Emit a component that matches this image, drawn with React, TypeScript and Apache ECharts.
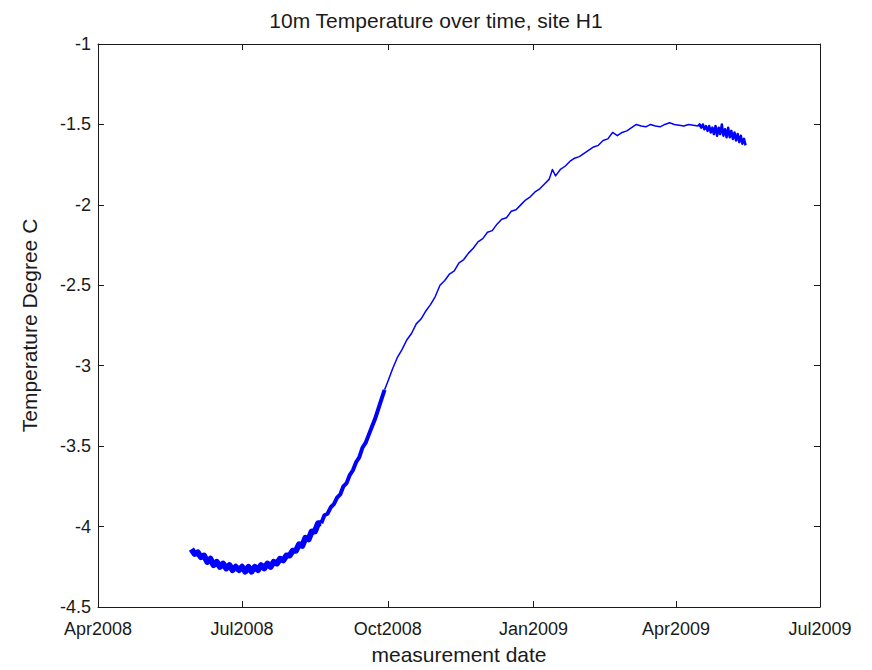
import React, { useEffect, useRef } from "react";
import * as echarts from "echarts";

const TITLE = "10m Temperature over time, site H1";
const X_NAME = "measurement date";
const Y_NAME = "Temperature Degree C";
const MONTHS = ["Jan", "Feb", "Mar", "Apr", "May", "Jun", "Jul", "Aug", "Sep", "Oct", "Nov", "Dec"];

// quarter tick dates [year, monthIndex]
const X_TICKS: [number, number][] = [
  [2008, 3], [2008, 6], [2008, 9], [2009, 0], [2009, 3], [2009, 6],
];
const Y_MIN = -4.5;
const Y_MAX = -1;
const Y_STEP = 0.5;

// noisy early-summer segment (thick band)
const summerTemps: [string, number][] = [
  ["2008-05-30", -4.14], ["2008-06-01", -4.17], ["2008-06-03", -4.16], ["2008-06-05", -4.19],
  ["2008-06-07", -4.18], ["2008-06-09", -4.22], ["2008-06-11", -4.2], ["2008-06-13", -4.24],
  ["2008-06-15", -4.22], ["2008-06-17", -4.25], ["2008-06-19", -4.23], ["2008-06-21", -4.26],
  ["2008-06-23", -4.24], ["2008-06-25", -4.27], ["2008-06-27", -4.25], ["2008-06-29", -4.27],
  ["2008-07-01", -4.25], ["2008-07-03", -4.28], ["2008-07-05", -4.25], ["2008-07-07", -4.28],
  ["2008-07-09", -4.25], ["2008-07-11", -4.27], ["2008-07-13", -4.24], ["2008-07-15", -4.26],
  ["2008-07-17", -4.23], ["2008-07-19", -4.25], ["2008-07-21", -4.22], ["2008-07-23", -4.23],
  ["2008-07-25", -4.2], ["2008-07-27", -4.21], ["2008-07-29", -4.18], ["2008-07-31", -4.18],
  ["2008-08-02", -4.15], ["2008-08-04", -4.15], ["2008-08-06", -4.11], ["2008-08-08", -4.12],
  ["2008-08-10", -4.07], ["2008-08-12", -4.08], ["2008-08-14", -4.03], ["2008-08-16", -4.03],
  ["2008-08-18", -3.98], ["2008-08-20", -3.98],
];

// late-summer rise (band narrowing)
const riseTemps: [string, number][] = [
  ["2008-08-20", -3.98], ["2008-08-22", -3.93], ["2008-08-24", -3.92],
  ["2008-08-26", -3.88], ["2008-08-28", -3.86], ["2008-08-30", -3.82], ["2008-09-01", -3.8],
  ["2008-09-03", -3.75], ["2008-09-05", -3.73], ["2008-09-07", -3.68], ["2008-09-09", -3.65],
  ["2008-09-11", -3.6], ["2008-09-13", -3.57], ["2008-09-15", -3.51], ["2008-09-17", -3.48],
  ["2008-09-19", -3.43], ["2008-09-21", -3.38], ["2008-09-23", -3.33], ["2008-09-25", -3.27],
  ["2008-09-27", -3.21], ["2008-09-29", -3.15],
];

// smoother autumn / winter segment
const winterTemps: [string, number][] = [
  ["2008-09-29", -3.15], ["2008-10-01", -3.1], ["2008-10-04", -3.02], ["2008-10-07", -2.95],
  ["2008-10-10", -2.9], ["2008-10-13", -2.84], ["2008-10-16", -2.8], ["2008-10-19", -2.74],
  ["2008-10-22", -2.71], ["2008-10-25", -2.66], ["2008-10-28", -2.62], ["2008-10-31", -2.57],
  ["2008-11-03", -2.5], ["2008-11-06", -2.47], ["2008-11-09", -2.43], ["2008-11-12", -2.41],
  ["2008-11-15", -2.36], ["2008-11-18", -2.34], ["2008-11-21", -2.3], ["2008-11-24", -2.27],
  ["2008-11-27", -2.23], ["2008-11-30", -2.21], ["2008-12-03", -2.17], ["2008-12-06", -2.16],
  ["2008-12-09", -2.12], ["2008-12-12", -2.09], ["2008-12-15", -2.08], ["2008-12-18", -2.04],
  ["2008-12-21", -2.03], ["2008-12-24", -2.0], ["2008-12-27", -1.97], ["2008-12-30", -1.95],
  ["2009-01-02", -1.92], ["2009-01-05", -1.9], ["2009-01-08", -1.87], ["2009-01-11", -1.84],
  ["2009-01-13", -1.78], ["2009-01-15", -1.82], ["2009-01-18", -1.78], ["2009-01-21", -1.76],
  ["2009-01-24", -1.73], ["2009-01-27", -1.71], ["2009-01-30", -1.7], ["2009-02-02", -1.68],
  ["2009-02-05", -1.66], ["2009-02-08", -1.64], ["2009-02-11", -1.63], ["2009-02-14", -1.6],
  ["2009-02-17", -1.59], ["2009-02-20", -1.55], ["2009-02-23", -1.57], ["2009-02-26", -1.55],
  ["2009-03-01", -1.54], ["2009-03-04", -1.52], ["2009-03-07", -1.5], ["2009-03-10", -1.51],
  ["2009-03-13", -1.515], ["2009-03-16", -1.5], ["2009-03-19", -1.51], ["2009-03-22", -1.515],
  ["2009-03-25", -1.5], ["2009-03-28", -1.49], ["2009-03-31", -1.5], ["2009-04-03", -1.505],
  ["2009-04-06", -1.51], ["2009-04-09", -1.5], ["2009-04-12", -1.505], ["2009-04-15", -1.51],
];

// noisy spring end segment
const springTemps: [string, number][] = [
  ["2009-04-15", -1.51], ["2009-04-16", -1.5], ["2009-04-17", -1.52], ["2009-04-18", -1.5],
  ["2009-04-19", -1.53], ["2009-04-20", -1.51], ["2009-04-21", -1.54], ["2009-04-22", -1.51],
  ["2009-04-23", -1.55], ["2009-04-24", -1.52], ["2009-04-25", -1.56], ["2009-04-26", -1.51],
  ["2009-04-27", -1.57], ["2009-04-28", -1.52], ["2009-04-29", -1.56], ["2009-04-30", -1.5],
  ["2009-05-01", -1.57], ["2009-05-02", -1.53], ["2009-05-03", -1.58], ["2009-05-04", -1.52],
  ["2009-05-05", -1.58], ["2009-05-06", -1.54], ["2009-05-07", -1.59], ["2009-05-08", -1.55],
  ["2009-05-09", -1.6], ["2009-05-10", -1.56], ["2009-05-11", -1.61], ["2009-05-12", -1.57],
  ["2009-05-13", -1.62], ["2009-05-14", -1.59], ["2009-05-15", -1.63],
];

const FONT = "'Liberation Sans', Arial, sans-serif";
const INK = "#1a1a1a";
const BLUE = "#0000ff";

const toTime = (s: string) => {
  const [y, m, d] = s.split("-").map(Number);
  return new Date(y, m - 1, d).getTime();
};

export default function App() {
  const ref = useRef<HTMLDivElement>(null);

  useEffect(() => {
    if (!ref.current) return;
    const chart = echarts.init(ref.current, undefined, { renderer: "svg" });
    const tickVals = X_TICKS.map(([y, m]) => new Date(y, m, 1).getTime());
    const xMin = tickVals[0];
    const xMax = tickVals[tickVals.length - 1];
    const fmtDate = (v: number) => {
      const d = new Date(v);
      return MONTHS[d.getMonth()] + d.getFullYear();
    };

    const axisLine = { show: true, onZero: false, lineStyle: { color: INK, width: 1 } };
    const tick = { show: true, inside: true, length: 6, lineStyle: { color: INK } };

    const line = (data: [string, number][], width: number) => ({
      type: "line",
      data: data.map(([d, v]) => [toTime(d), v]),
      showSymbol: false,
      symbol: "none",
      lineStyle: { color: BLUE, width, join: "round" },
      itemStyle: { color: BLUE },
      silent: true,
    });

    chart.setOption({
      animation: false,
      backgroundColor: "#ffffff",
      title: {
        text: TITLE,
        left: "center",
        top: 5,
        textStyle: { fontFamily: FONT, fontSize: 21, fontWeight: "normal", color: INK },
      },
      grid: { left: 98, right: 52, top: 44, bottom: 61, containLabel: false },
      xAxis: [
        {
          type: "value",
          min: xMin,
          max: xMax,
          position: "bottom",
          name: X_NAME,
          nameLocation: "middle",
          nameGap: 37,
          nameTextStyle: { fontFamily: FONT, fontSize: 21, color: INK },
          axisLine,
          axisTick: { ...tick, customValues: tickVals },
          axisLabel: {
            customValues: tickVals,
            formatter: fmtDate,
            fontFamily: FONT,
            fontSize: 18,
            color: INK,
            margin: 13,
          },
          splitLine: { show: false },
        },
        {
          type: "value",
          min: xMin,
          max: xMax,
          position: "top",
          axisLine,
          axisTick: { ...tick, customValues: tickVals },
          axisLabel: { show: false },
          splitLine: { show: false },
        },
      ],
      yAxis: [
        {
          type: "value",
          min: Y_MIN,
          max: Y_MAX,
          interval: Y_STEP,
          position: "left",
          name: Y_NAME,
          nameLocation: "middle",
          nameGap: 58,
          nameTextStyle: { fontFamily: FONT, fontSize: 21, color: INK },
          axisLine,
          axisTick: tick,
          axisLabel: { fontFamily: FONT, fontSize: 18, color: INK, margin: 7 },
          splitLine: { show: false },
        },
        {
          type: "value",
          min: Y_MIN,
          max: Y_MAX,
          interval: Y_STEP,
          position: "right",
          axisLine,
          axisTick: tick,
          axisLabel: { show: false },
          splitLine: { show: false },
        },
      ],
      series: [
        line(summerTemps, 6),
        line(riseTemps, 4),
        line(winterTemps, 1.5),
        line(springTemps, 2.5),
      ],
    });

    return () => chart.dispose();
  }, []);

  return (
    <div
      ref={ref}
      style={{ position: "fixed", left: 0, top: 0, width: 872, height: 670, background: "#fff" }}
    />
  );
}
